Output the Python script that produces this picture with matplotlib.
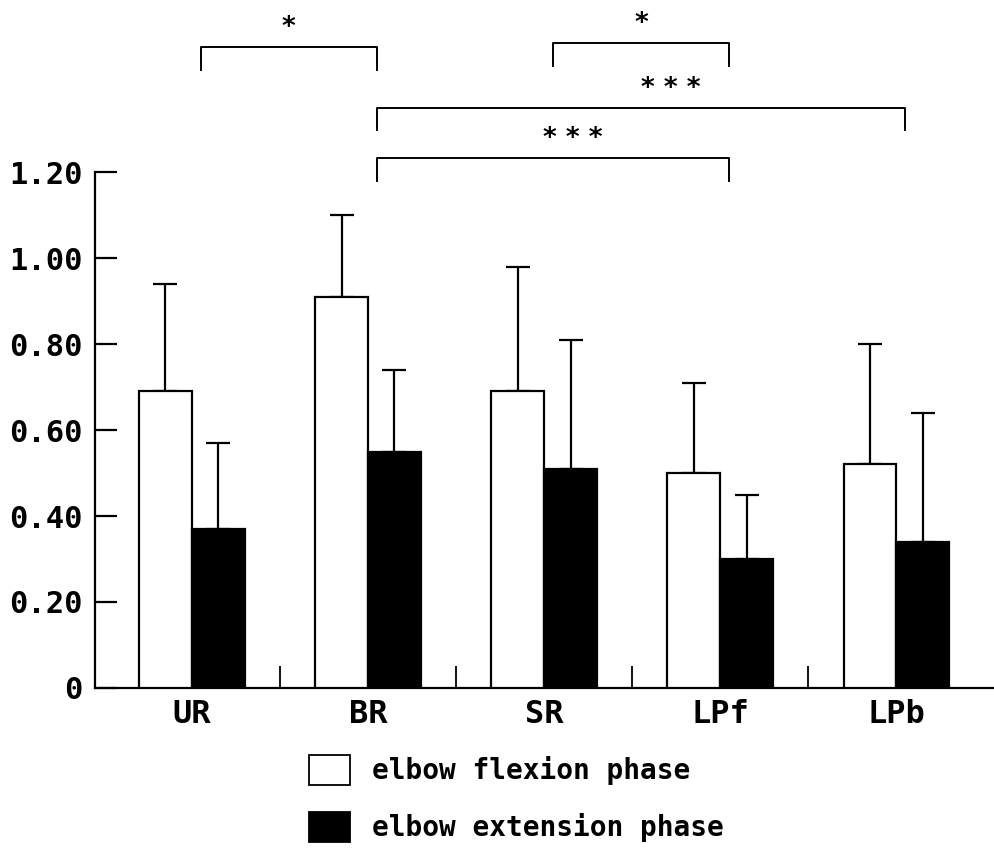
import matplotlib
matplotlib.use('Agg')
import matplotlib.pyplot as plt
from matplotlib.patches import Patch
import numpy as np

plt.rcParams['font.family'] = ['DejaVu Sans Mono']
plt.rcParams['font.weight'] = 'bold'

# data
groups = ['UR', 'BR', 'SR', 'LPf', 'LPb']
flex = [0.69, 0.91, 0.69, 0.50, 0.52]
flex_sd = [0.25, 0.19, 0.29, 0.21, 0.28]
ext = [0.37, 0.55, 0.51, 0.30, 0.34]
ext_sd = [0.20, 0.19, 0.30, 0.15, 0.30]
yticks = [0, 0.2, 0.4, 0.6, 0.8, 1.0, 1.2]
ytick_labels = ['0', '0.20', '0.40', '0.60', '0.80', '1.00', '1.20']
legend_labels = ['elbow flexion phase', 'elbow extension phase']

# significance comparisons (group index a, group index b, label)
comparisons = [(0, 1, '*'), (2, 3, '*'), (1, 4, '* * *'), (1, 3, '* * *')]
# layout for the brackets
bracket_y = [1.49, 1.50, 1.35, 1.233]
label_shift = [0, 0, 0.17, 0.11]
leg = 0.053

fig = plt.figure(figsize=(9.95, 8.5), dpi=100)
ax = fig.add_axes([0.0955, 0.1906, 0.9045, 0.607])

x = np.arange(len(groups))
w = 0.3
lw = 1.6

ax.bar(x - w/2, flex, w, color='white', edgecolor='black', linewidth=lw, zorder=3)
ax.bar(x + w/2, ext, w, color='black', edgecolor='black', linewidth=lw, zorder=3)
ax.errorbar(x - w/2, flex, yerr=[np.zeros(len(flex)), flex_sd], fmt='none',
            ecolor='black', elinewidth=lw, capsize=8.3, capthick=lw, zorder=2)
ax.errorbar(x + w/2, ext, yerr=[np.zeros(len(ext)), ext_sd], fmt='none',
            ecolor='black', elinewidth=lw, capsize=8.3, capthick=lw, zorder=2)

ax.set_xlim(-0.55, 4.56)
ax.set_ylim(0, 1.2)

ax.spines['top'].set_visible(False)
ax.spines['right'].set_visible(False)
ax.spines['left'].set_linewidth(lw)
ax.spines['bottom'].set_linewidth(lw)

ax.set_yticks(yticks)
ax.set_yticklabels(ytick_labels)
ax.tick_params(axis='y', direction='in', length=15.8, width=lw, labelsize=22, pad=9)

ax.set_xticks(x)
ax.set_xticklabels(groups)
ax.tick_params(axis='x', which='major', length=0, labelsize=23, pad=8)
ax.set_xticks(x[:-1] + 0.5, minor=True)
ax.tick_params(axis='x', which='minor', direction='in', length=15.8, width=1.3)

# significance brackets
for (a, b, lab), yb, sh in zip(comparisons, bracket_y, label_shift):
    xa, xb = a + 0.05, b + 0.05
    ax.plot([xa, xa, xb, xb], [yb - leg, yb, yb, yb - leg], color='black',
            linewidth=1.4, clip_on=False)
    ax.text((xa + xb) / 2 + sh, yb + 0.028, lab, ha='center', va='baseline',
            fontsize=19, family='DejaVu Sans', clip_on=False)

handles = [Patch(facecolor='white', edgecolor='black', linewidth=1.3),
           Patch(facecolor='black', edgecolor='black', linewidth=1.3)]
fig.legend(handles, legend_labels, loc='upper left', bbox_to_anchor=(0.3106, 0.112),
           frameon=False, fontsize=20, handlelength=1.48, handleheight=1.32,
           handletextpad=0.8, labelspacing=0.95, borderpad=0, borderaxespad=0)

fig.savefig('out.png', dpi=100)
